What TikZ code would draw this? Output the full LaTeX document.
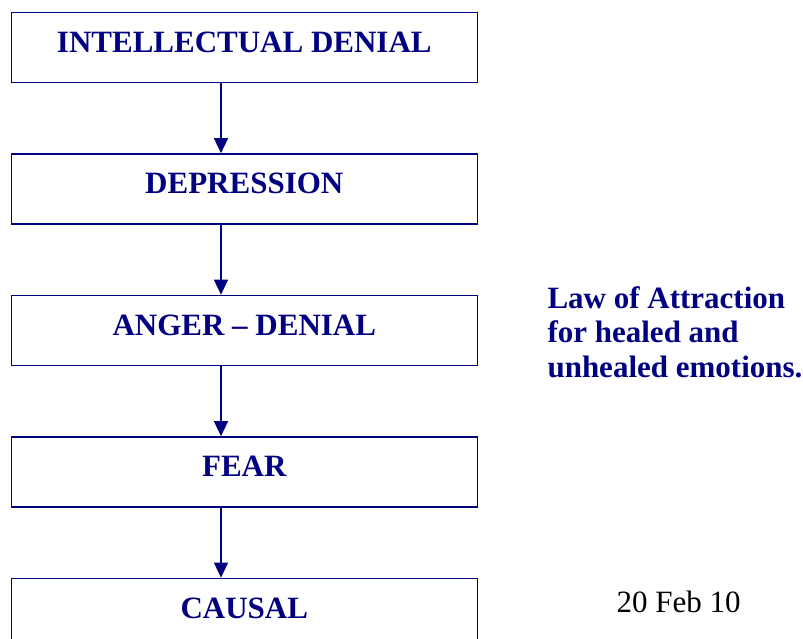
\documentclass[tikz,border=0pt]{standalone}
\usepackage{fontspec}
\setmainfont{Liberation Serif}
\usetikzlibrary{positioning, arrows.meta}
\definecolor{navyblue}{RGB}{0,0,128}

\begin{document}
\begin{tikzpicture}
	[x=1pt, y=1pt, node distance=70pt,
	 box/.style={draw=navyblue, line width=1.5pt, minimum width=466pt, minimum height=70pt,
	   inner sep=0pt, text=navyblue, font=\fontsize{31}{34.5}\selectfont\bfseries,
	   text height=20pt, text depth=10pt},
	 flow/.style={draw=navyblue, line width=1.5pt, -{Triangle[width=14pt,length=15pt]}}]
   \clip (0,0) rectangle (803,-639);
   \node[box] (intel) at (244.3,-47.4) {INTELLECTUAL DENIAL};
   \node[box] (depr) [below=of intel] {DEPRESSION};
   \node[box] (anger) [below=of depr] {ANGER -- DENIAL};
   \node[box] (fear) [below=of anger] {FEAR};
   \node[box] (causal) [below=of fear] {CAUSAL};
   \node[anchor=base west, align=left, text=navyblue,
         font=\fontsize{31}{34.5}\selectfont\bfseries] (law) at (544,-377)
         {Law of Attraction\\for healed and\\unhealed emotions.};
   \node[anchor=base west, font=\fontsize{31}{34.5}\selectfont] (date) at (613,-612) {20 Feb 10};
   % arrows sit left of the box centres
   \coordinate (ax) at (221,0);
   \draw[flow] (intel.south -| ax) -- (depr.north -| ax);
   \draw[flow] (depr.south -| ax) -- (anger.north -| ax);
   \draw[flow] (anger.south -| ax) -- (fear.north -| ax);
   \draw[flow] (fear.south -| ax) -- (causal.north -| ax);
\end{tikzpicture}
\end{document}
